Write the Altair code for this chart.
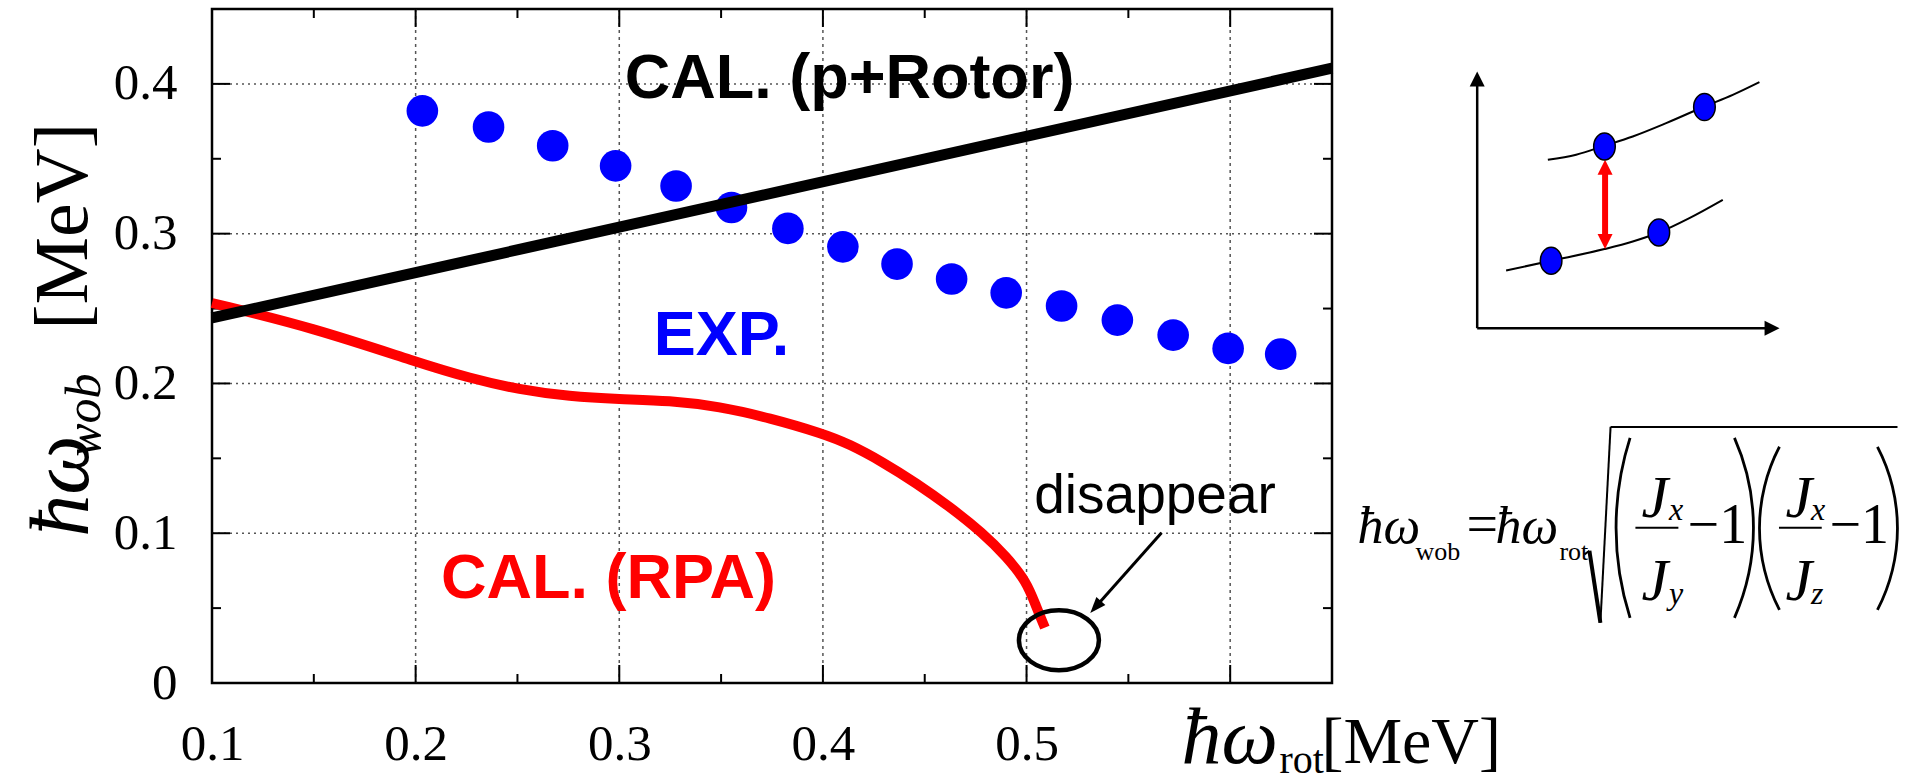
import altair as alt
import pandas as pd

SERIF = "Liberation Serif"
SANS = "Liberation Sans"
BLUE = "#0000FF"
RED = "#FF0000"

# ---------------- values ----------------
# experimental wobbling energies (EXP.)
exp_x = [0.2033, 0.2358, 0.2673, 0.2982, 0.3279, 0.3551, 0.3828, 0.4098,
         0.4364, 0.4632, 0.4900, 0.5172, 0.5446, 0.5720, 0.5990, 0.6248]
exp_y = [0.3820, 0.3712, 0.3587, 0.3453, 0.3318, 0.3175, 0.3035, 0.2912,
         0.2797, 0.2697, 0.2605, 0.2517, 0.2423, 0.2323, 0.2234, 0.2196]
# particle + rotor calculation
rotor_x = [0.10, 0.65]
rotor_y = [0.2437, 0.4105]
# RPA calculation
rpa_x = [0.100, 0.150, 0.2019, 0.2264, 0.2510, 0.2756, 0.3000, 0.3247,
         0.3492, 0.3738, 0.4000, 0.4130, 0.4294, 0.4458, 0.4622, 0.4785,
         0.4900, 0.5000, 0.5047, 0.5090]
rpa_y = [0.2537, 0.2371, 0.2136, 0.2036, 0.1958, 0.1913, 0.1895, 0.1886,
         0.1846, 0.1770, 0.1665, 0.1595, 0.1475, 0.1335, 0.1178, 0.1001,
         0.0845, 0.0678, 0.0511, 0.0370]

# axes
x_domain = [0.1, 0.65]
y_domain = [0.0, 0.45]
x_labels = [0.1, 0.2, 0.3, 0.4, 0.5]
y_labels = [0.0, 0.1, 0.2, 0.3, 0.4]
x_major = [0.2, 0.3, 0.4, 0.5, 0.6]
x_minor = [0.15, 0.25, 0.35, 0.45, 0.55]
y_major = [0.1, 0.2, 0.3, 0.4]
y_minor = [0.05, 0.15, 0.25, 0.35]

# in-plot labels
label_text = ["CAL. (p+Rotor)", "EXP.", "CAL. (RPA)", "disappear"]
label_x = [0.4131, 0.3502, 0.2947, 0.5631]
label_y = [0.3907, 0.2191, 0.0569, 0.1136]

# "disappear" circle and arrow
circle_x = [0.5159]
circle_y = [0.0285]
arrow_x = [0.5663]
arrow_y = [0.1003]
arrow_x2 = [0.5352]
arrow_y2 = [0.0527]
arrowhead_x = [0.5339]
arrowhead_y = [0.0507]

# axis titles (pieces)
ytitle_text = ["\u0127\u03c9", "wob", "[MeV]"]
ytitle_x = [0.0389, 0.0448, 0.0384]
ytitle_y = [0.0976, 0.1510, 0.2358]
xtitle_text = ["\u0127\u03c9", "rot", "[MeV]"]
xtitle_x = [0.5761, 0.6242, 0.6448]
xtitle_y = [-0.0533, -0.0600, -0.0533]

# inset schematic
inset_upper_x = [0.7560, 0.7699, 0.7838, 0.7977, 0.8141, 0.8329, 0.8468, 0.8599]
inset_upper_y = [0.3493, 0.3527, 0.3587, 0.3649, 0.3738, 0.3849, 0.3927, 0.4012]
inset_lower_x = [0.7355, 0.7576, 0.7838, 0.7977, 0.8105, 0.8255, 0.8419]
inset_lower_y = [0.2754, 0.2819, 0.2897, 0.2948, 0.3008, 0.3104, 0.3226]
inset_pts_x = [0.7838, 0.8329, 0.7576, 0.8105]
inset_pts_y = [0.3582, 0.3845, 0.2819, 0.3008]
inset_axis_x = [0.7213, 0.7213]
inset_axis_y = [0.2369, 0.2369]
inset_axis_x2 = [0.7213, 0.8658]
inset_axis_y2 = [0.4027, 0.2369]
inset_head_x = [0.7213, 0.8661]
inset_head_y = [0.4033, 0.2369]
inset_head_angle = [0, 90]
gap_x = [0.7841]
gap_y = [0.2979]
gap_y2 = [0.3413]
gap_head_x = [0.7841, 0.7841]
gap_head_y = [0.3443, 0.2947]
gap_head_angle = [0, 180]

# formula pieces
f_big_text = ["\u0127\u03c9", "=", "\u0127\u03c9", "\u22121", "\u22121"]
f_big_x = [0.6625, 0.7160, 0.7303, 0.8246, 0.8943]
f_big_y = [0.0934, 0.0934, 0.0934, 0.0934, 0.0934]
f_sub_text = ["wob", "rot"]
f_sub_x = [0.6910, 0.7617]
f_sub_y = [0.0823, 0.0823]
f_j_x = [0.8020, 0.8020, 0.8727, 0.8727]
f_j_y = [0.1110, 0.0555, 0.1110, 0.0555]
f_jsub_text = ["x", "y", "x", "z"]
f_jsub_x = [0.8155, 0.8155, 0.8852, 0.8852]
f_jsub_y = [0.1090, 0.0529, 0.1090, 0.0529]
f_bar_x = [0.7990, 0.8695]
f_bar_x2 = [0.8201, 0.8905]
f_bar_y = [0.1036, 0.1036]
root_thick_x = [0.7764]
root_thick_y = [0.0883]
root_thick_x2 = [0.7818]
root_thick_y2 = [0.0402]
root_thin_x = [0.7740, 0.7818, 0.7868]
root_thin_y = [0.0859, 0.0402, 0.1710]
root_thin_x2 = [0.7764, 0.7868, 0.9277]
root_thin_y2 = [0.0883, 0.1710, 0.1710]
paren_x = [0.9350, 0.7476, 0.9464, 0.8412]
paren_y = [0.1036, 0.1036, 0.1033, 0.1033]
paren_t1 = [4.4038, 1.1547, 4.2312, 1.0896]
paren_t2 = [5.0210, 1.9869, 5.1936, 2.0520]
paren_r = [296.3, 222.7, 176.1, 176.1]

# ---------------- chart ----------------
W, H = 1120, 674
PAD = {"left": 212, "top": 9, "right": 1909 - 212 - W, "bottom": 782 - 9 - H}

xs = alt.Scale(domain=x_domain, nice=False, zero=False)
ys = alt.Scale(domain=y_domain, nice=False, zero=False)
xaxis = alt.Axis(values=x_labels, format=".1~f", title=None, grid=False,
                 ticks=False, tickSize=0, domain=False, labelFont=SERIF,
                 labelFontSize=51, labelPadding=36, labelColor="black",
                 labelFlush=False)
yaxis = alt.Axis(values=y_labels, format=".1~f", title=None, grid=False,
                 ticks=False, tickSize=0, domain=False, labelFont=SERIF,
                 labelFontSize=51, labelPadding=35, labelColor="black")


def X(f="x"):
    return alt.X(f"{f}:Q", scale=xs, axis=xaxis)


def Y(f="y"):
    return alt.Y(f"{f}:Q", scale=ys, axis=yaxis)


layers = []

# grid
layers.append(alt.Chart(pd.DataFrame({"x": x_major})).mark_rule(
    color="#555555", strokeWidth=1.5, strokeDash=[3, 4]).encode(
    x=X(), y=alt.value(0), y2=alt.value(H)))
layers.append(alt.Chart(pd.DataFrame({"y": y_major})).mark_rule(
    color="#555555", strokeWidth=1.5, strokeDash=[2, 4]).encode(
    y=Y(), x=alt.value(0), x2=alt.value(W)))

# inward ticks
for vals, ln in ((x_major, 18), (x_minor, 9)):
    d = pd.DataFrame({"x": vals})
    layers.append(alt.Chart(d).mark_rule(color="black", strokeWidth=2).encode(
        x=X(), y=alt.value(H), y2=alt.value(H - ln)))
    layers.append(alt.Chart(d).mark_rule(color="black", strokeWidth=2).encode(
        x=X(), y=alt.value(0), y2=alt.value(ln)))
for vals, ln in ((y_major, 18), (y_minor, 9)):
    d = pd.DataFrame({"y": vals})
    layers.append(alt.Chart(d).mark_rule(color="black", strokeWidth=2).encode(
        y=Y(), x=alt.value(0), x2=alt.value(ln)))
    layers.append(alt.Chart(d).mark_rule(color="black", strokeWidth=2).encode(
        y=Y(), x=alt.value(W), x2=alt.value(W - ln)))

# data
layers.append(alt.Chart(pd.DataFrame({"x": rpa_x, "y": rpa_y})).mark_line(
    color=RED, strokeWidth=10, interpolate="basis", strokeCap="butt").encode(
    x=X(), y=Y()))
layers.append(alt.Chart(pd.DataFrame({"x": exp_x, "y": exp_y})).mark_circle(
    size=1000, color=BLUE, opacity=1).encode(x=X(), y=Y()))
layers.append(alt.Chart(pd.DataFrame({"x": rotor_x, "y": rotor_y})).mark_line(
    color="black", strokeWidth=11).encode(x=X(), y=Y()))


def text_layer(txt, x, y, size, color="black", font=SANS, weight="normal",
               style="normal", align="left", angle=0):
    d = pd.DataFrame({"x": [x], "y": [y], "t": [txt]})
    return alt.Chart(d).mark_text(
        font=font, fontSize=size, fontWeight=weight, fontStyle=style,
        color=color, align=align, baseline="alphabetic", angle=angle).encode(
        x=X(), y=Y(), text="t:N")


label_style = [("black", 63), (BLUE, 63), (RED, 63)]
for i, (col, sz) in enumerate(label_style):
    layers.append(text_layer(label_text[i], label_x[i], label_y[i], sz,
                             color=col, weight="bold", align="center"))
layers.append(text_layer(label_text[3], label_x[3], label_y[3], 55,
                         align="center"))

# disappear circle + arrow
ELLIPSE = "M-1,0A1,0.75,0,1,0,1,0A1,0.75,0,1,0,-1,0Z"
TRI = "M0,-1L0.75,1L-0.75,1Z"
TRI_W = "M0,-1L1,1L-1,1Z"
layers.append(alt.Chart(pd.DataFrame({"x": circle_x, "y": circle_y})).mark_point(
    shape=ELLIPSE, size=6400, filled=False, color="black", strokeWidth=4.5,
    opacity=1).encode(x=X(), y=Y()))
layers.append(alt.Chart(pd.DataFrame({"x": arrow_x, "y": arrow_y,
                                      "x2": arrow_x2, "y2": arrow_y2})).mark_rule(
    color="black", strokeWidth=3).encode(
    x=X(), y=Y(), x2=alt.X2("x2:Q"), y2=alt.Y2("y2:Q")))
layers.append(alt.Chart(pd.DataFrame({"x": arrowhead_x, "y": arrowhead_y})).mark_point(
    shape=TRI, size=256, filled=True, color="black", angle=221.6, opacity=1,
    strokeWidth=0).encode(x=X(), y=Y()))

# axis titles
layers.append(text_layer(ytitle_text[0], ytitle_x[0], ytitle_y[0], 84,
                         font=SERIF, style="italic", angle=270))
layers.append(text_layer(ytitle_text[1], ytitle_x[1], ytitle_y[1], 50,
                         font=SERIF, style="italic", angle=270))
layers.append(text_layer(ytitle_text[2], ytitle_x[2], ytitle_y[2], 76,
                         font=SERIF, angle=270))
layers.append(text_layer(xtitle_text[0], xtitle_x[0], xtitle_y[0], 80,
                         font=SERIF, style="italic"))
layers.append(text_layer(xtitle_text[1], xtitle_x[1], xtitle_y[1], 40,
                         font=SERIF))
layers.append(text_layer(xtitle_text[2], xtitle_x[2], xtitle_y[2], 66,
                         font=SERIF))

# inset schematic
curves = pd.DataFrame({
    "x": inset_upper_x + inset_lower_x,
    "y": inset_upper_y + inset_lower_y,
    "c": ["upper"] * len(inset_upper_x) + ["lower"] * len(inset_lower_x)})
layers.append(alt.Chart(curves).mark_line(
    color="black", strokeWidth=2, interpolate="monotone").encode(
    x=X(), y=Y(), detail="c:N"))
layers.append(alt.Chart(pd.DataFrame({"x": inset_axis_x, "y": inset_axis_y,
                                      "x2": inset_axis_x2, "y2": inset_axis_y2})).mark_rule(
    color="black", strokeWidth=2.5).encode(
    x=X(), y=Y(), x2=alt.X2("x2:Q"), y2=alt.Y2("y2:Q")))
layers.append(alt.Chart(pd.DataFrame({"x": inset_head_x, "y": inset_head_y,
                                      "a": inset_head_angle})).mark_point(
    shape=TRI_W, size=225, filled=True, color="black", opacity=1,
    strokeWidth=0).encode(x=X(), y=Y(), angle=alt.Angle("a:Q", scale=None)))
layers.append(alt.Chart(pd.DataFrame({"x": gap_x, "y": gap_y, "y2": gap_y2})).mark_rule(
    color=RED, strokeWidth=6).encode(x=X(), y=Y(), y2=alt.Y2("y2:Q")))
layers.append(alt.Chart(pd.DataFrame({"x": gap_head_x, "y": gap_head_y,
                                      "a": gap_head_angle})).mark_point(
    shape=TRI_W, size=225, filled=True, color=RED, opacity=1,
    strokeWidth=0).encode(x=X(), y=Y(), angle=alt.Angle("a:Q", scale=None)))
layers.append(alt.Chart(pd.DataFrame({"x": inset_pts_x, "y": inset_pts_y})).mark_point(
    shape="M-0.8,0A0.8,1,0,1,0,0.8,0A0.8,1,0,1,0,-0.8,0Z", size=729,
    filled=True, fill=BLUE, stroke="black", strokeWidth=1.5,
    opacity=1).encode(x=X(), y=Y()))

# formula
for i, t in enumerate(f_big_text):
    is_omega = "\u03c9" in t
    layers.append(text_layer(t, f_big_x[i], f_big_y[i], 52 if is_omega else 56,
                             font=SERIF,
                             style="italic" if is_omega else "normal"))
for i, t in enumerate(f_sub_text):
    layers.append(text_layer(t, f_sub_x[i], f_sub_y[i], 26, font=SERIF))
for i in range(len(f_j_x)):
    layers.append(text_layer("J", f_j_x[i], f_j_y[i], 60, font=SERIF,
                             style="italic"))
    layers.append(text_layer(f_jsub_text[i], f_jsub_x[i], f_jsub_y[i], 32,
                             font=SERIF, style="italic"))
layers.append(alt.Chart(pd.DataFrame({"x": f_bar_x, "x2": f_bar_x2,
                                      "y": f_bar_y})).mark_rule(
    color="black", strokeWidth=2).encode(x=X(), x2=alt.X2("x2:Q"), y=Y()))
layers.append(alt.Chart(pd.DataFrame({"x": root_thick_x, "y": root_thick_y,
                                      "x2": root_thick_x2, "y2": root_thick_y2})).mark_rule(
    color="black", strokeWidth=4).encode(
    x=X(), y=Y(), x2=alt.X2("x2:Q"), y2=alt.Y2("y2:Q")))
layers.append(alt.Chart(pd.DataFrame({"x": root_thin_x, "y": root_thin_y,
                                      "x2": root_thin_x2, "y2": root_thin_y2})).mark_rule(
    color="black", strokeWidth=2).encode(
    x=X(), y=Y(), x2=alt.X2("x2:Q"), y2=alt.Y2("y2:Q")))
parens = pd.DataFrame({"x": paren_x, "y": paren_y, "t1": paren_t1,
                       "t2": paren_t2,
                       "ro": [r + 1.4 for r in paren_r],
                       "ri": [r - 1.4 for r in paren_r]})
layers.append(alt.Chart(parens).mark_arc(color="black").encode(
    x=X(), y=Y(),
    theta=alt.Theta("t1:Q", scale=None, stack=None),
    theta2=alt.Theta2("t2:Q"),
    radius=alt.Radius("ro:Q", scale=None),
    radius2=alt.Radius2("ri:Q")))

chart = alt.layer(*layers).properties(
    width=W, height=H,
    autosize=alt.AutoSizeParams(type="none"),
    padding=PAD,
    background="white",
).configure_view(stroke="black", strokeWidth=2.5)

chart.save("out.html", embed_options={"renderer": "svg", "actions": False})
